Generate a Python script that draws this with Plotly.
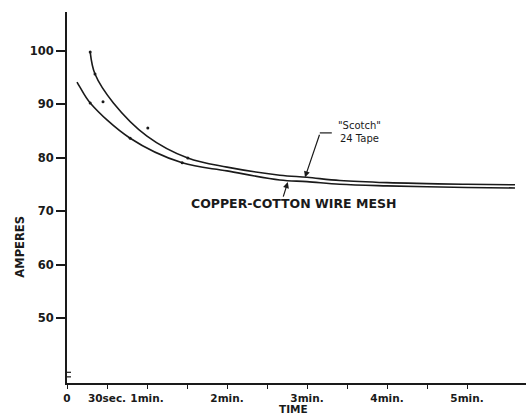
import plotly.graph_objects as go

# --- data (time in minutes, current in amperes) ---
scotch_t = [0.29, 0.35, 0.58, 1.0, 1.51, 2.0, 2.66, 3.0, 3.41, 4.0, 5.0, 5.6]
scotch_a = [99.7, 95.6, 90.2, 84.0, 79.9, 78.2, 76.7, 76.3, 75.7, 75.3, 75.0, 74.9]
scotch_pts_t = [0.29, 0.35, 0.45, 1.01, 1.51]
scotch_pts_a = [99.7, 95.6, 90.4, 85.5, 79.9]

mesh_t = [0.125, 0.16, 0.29, 0.79, 1.44, 2.0, 2.66, 3.0, 3.41, 4.0, 5.0, 5.6]
mesh_a = [94.1, 93.2, 90.2, 83.6, 79.0, 77.5, 75.8, 75.5, 75.0, 74.7, 74.4, 74.3]
mesh_pts_t = [0.29, 0.79, 1.44]
mesh_pts_a = [90.2, 83.6, 79.0]

x_tickvals = [0, 0.5, 1, 1.5, 2, 2.5, 3, 3.5, 4, 4.5, 5]
x_ticktext = ["0", "30sec.", "1min.", "", "2min.", "", "3min.", "", "4min.", "", "5min."]
y_tickvals = [50, 60, 70, 80, 90, 100]
y_ticktext = ["50", "60", "70", "80", "90", "100"]

INK = "#1a1a1a"
FONT = "DejaVu Sans"

fig = go.Figure()
fig.add_trace(go.Scatter(x=scotch_t, y=scotch_a, mode="lines",
                         line=dict(color=INK, width=1.6, shape="spline", smoothing=1.0),
                         showlegend=False, hoverinfo="skip"))
fig.add_trace(go.Scatter(x=mesh_t, y=mesh_a, mode="lines",
                         line=dict(color=INK, width=1.6, shape="spline", smoothing=1.0),
                         showlegend=False, hoverinfo="skip"))
fig.add_trace(go.Scatter(x=scotch_pts_t, y=scotch_pts_a, mode="markers",
                         marker=dict(color=INK, size=3), showlegend=False))
fig.add_trace(go.Scatter(x=mesh_pts_t, y=mesh_pts_a, mode="markers",
                         marker=dict(color=INK, size=3), showlegend=False))

fig.update_layout(
    width=526, height=417,
    margin=dict(l=67, r=0, t=12, b=34),
    paper_bgcolor="white", plot_bgcolor="white",
    font=dict(family=FONT, size=11, color=INK),
    showlegend=False,
)
fig.update_xaxes(range=[0, 5.7375], showgrid=False, zeroline=False,
                 showline=True, linecolor=INK, linewidth=2,
                 ticks="outside", ticklen=4, tickwidth=1.2, tickcolor=INK,
                 tickvals=x_tickvals, ticktext=x_ticktext,
                 tickfont=dict(family=FONT, size=10.5, color=INK, weight=600))
fig.update_yaxes(range=[37.85, 107.2], showgrid=False, zeroline=False,
                 showline=True, linecolor=INK, linewidth=2,
                 ticks="outside", ticklen=9, tickwidth=1.5, tickcolor=INK,
                 tickvals=y_tickvals, ticktext=y_ticktext,
                 tickfont=dict(family=FONT, size=11.5, color=INK, weight=600))

# axis break mark on the y axis
for yb in [39.0, 39.85]:
    fig.add_shape(type="line", xref="x", yref="y", xsizemode="pixel", xanchor=0,
                  x0=-4, x1=4, y0=yb, y1=yb, line=dict(color=INK, width=1.2))

# axis titles
fig.add_annotation(text="AMPERES", xref="paper", yref="paper", x=-0.102, y=0.368,
                   xanchor="center", yanchor="middle",
                   textangle=-90, showarrow=False,
                   font=dict(family=FONT, size=11.5, color=INK, weight=600))
fig.add_annotation(text="TIME", xref="paper", yref="paper", x=0.493, y=-0.071,
                   showarrow=False, yanchor="middle",
                   font=dict(family=FONT, size=10.5, color=INK, weight=600))

# Scotch tape label with leader
fig.add_annotation(text="\"Scotch\"<br>24 Tape", x=3.65, y=84.8, xref="x", yref="y",
                   showarrow=False, font=dict(family=FONT, size=10, color=INK))
fig.add_shape(type="line", xref="x", yref="y", x0=3.16, x1=3.31, y0=84.6, y1=84.6,
              line=dict(color=INK, width=1.2))
fig.add_annotation(text="", x=2.975, y=76.3, xref="x", yref="y", showarrow=True,
                   ax=15, ay=-44, arrowhead=2, arrowsize=1, arrowwidth=1.2,
                   arrowcolor=INK)

# copper-cotton label with leader
fig.add_annotation(text="COPPER-COTTON WIRE MESH", x=2.83, y=71.4, xref="x", yref="y",
                   showarrow=False, font=dict(family=FONT, size=12.5, color=INK, weight=600))
fig.add_annotation(text="", x=2.76, y=75.4, xref="x", yref="y", showarrow=True,
                   ax=-5, ay=16, arrowhead=2, arrowsize=1, arrowwidth=1.2,
                   arrowcolor=INK)

fig.write_html("out.html", config={"displayModeBar": False},
               post_script="document.body.style.margin='0';document.body.style.padding='0';")
